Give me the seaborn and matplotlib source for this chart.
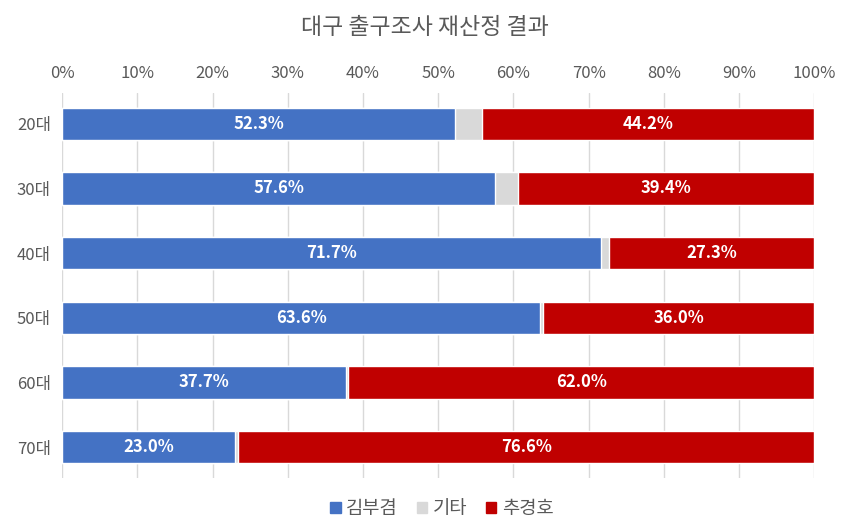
import matplotlib
matplotlib.use('Agg')
import matplotlib.pyplot as plt
import pandas as pd
import seaborn as sns
from matplotlib.patches import Patch
from matplotlib.ticker import FuncFormatter

# 데이터
ages = ['20대', '30대', '40대', '50대', '60대', '70대']
kim = [52.3, 57.6, 71.7, 63.6, 37.7, 23.0]
etc = [3.5, 3.0, 1.0, 0.4, 0.3, 0.4]
choo = [44.2, 39.4, 27.3, 36.0, 62.0, 76.6]

df = pd.DataFrame({'age': ages, 'kim': kim, 'etc': etc, 'choo': choo})
df['kim_etc'] = df['kim'] + df['etc']
df['total'] = df['kim_etc'] + df['choo']

c_kim = '#4472C4'
c_etc = '#D9D9D9'
c_choo = '#C00000'
txt_gray = '#595959'

sns.set_style('white')
plt.rcParams['font.family'] = ['Noto Sans CJK KR', 'DejaVu Sans']

fig = plt.figure(figsize=(8.5, 5.3), dpi=100)
ax = fig.add_axes([0.073, 0.098, 0.885, 0.727])

# 누적 막대: 뒤에서부터 겹쳐 그림
for col, c in [('total', c_choo), ('kim_etc', c_etc), ('kim', c_kim)]:
    sns.barplot(data=df, x=col, y='age', color=c, width=0.5, saturation=1,
                edgecolor='white', linewidth=1, ax=ax, orient='h', zorder=3)

for i, row in df.iterrows():
    ax.text(row['kim'] / 2, i, f"{row['kim']:.1f}%", ha='center', va='center',
            color='white', fontsize=12, fontweight='bold', zorder=4)
    ax.text(row['kim_etc'] + row['choo'] / 2, i, f"{row['choo']:.1f}%", ha='center',
            va='center', color='white', fontsize=12, fontweight='bold', zorder=4)

ax.set_xlim(0, 100)
ax.set_ylim(5.48, -0.48)
ax.set_xticks(range(0, 101, 10))
ax.xaxis.set_major_formatter(FuncFormatter(lambda v, p: f'{int(v)}%'))
ax.xaxis.tick_top()
ax.tick_params(axis='both', length=0, labelsize=12, colors=txt_gray, pad=8)
ax.grid(axis='x', color='#D9D9D9', linewidth=1, zorder=0)
ax.set_xlabel('')
ax.set_ylabel('')
for s in ax.spines.values():
    s.set_visible(False)

fig.suptitle('대구 출구조사 재산정 결과', y=0.97, fontsize=16.5, color=txt_gray)

handles = [Patch(color=c_kim, label='김부겸'),
           Patch(color=c_etc, label='기타'),
           Patch(color=c_choo, label='추경호')]
fig.legend(handles=handles, loc='center', bbox_to_anchor=(0.52, 0.04), ncol=3,
           frameon=False, fontsize=13.5, handlelength=0.55, handleheight=0.55,
           handletextpad=0.3, columnspacing=1.0, labelcolor=txt_gray)

fig.savefig('out.png', dpi=100)
